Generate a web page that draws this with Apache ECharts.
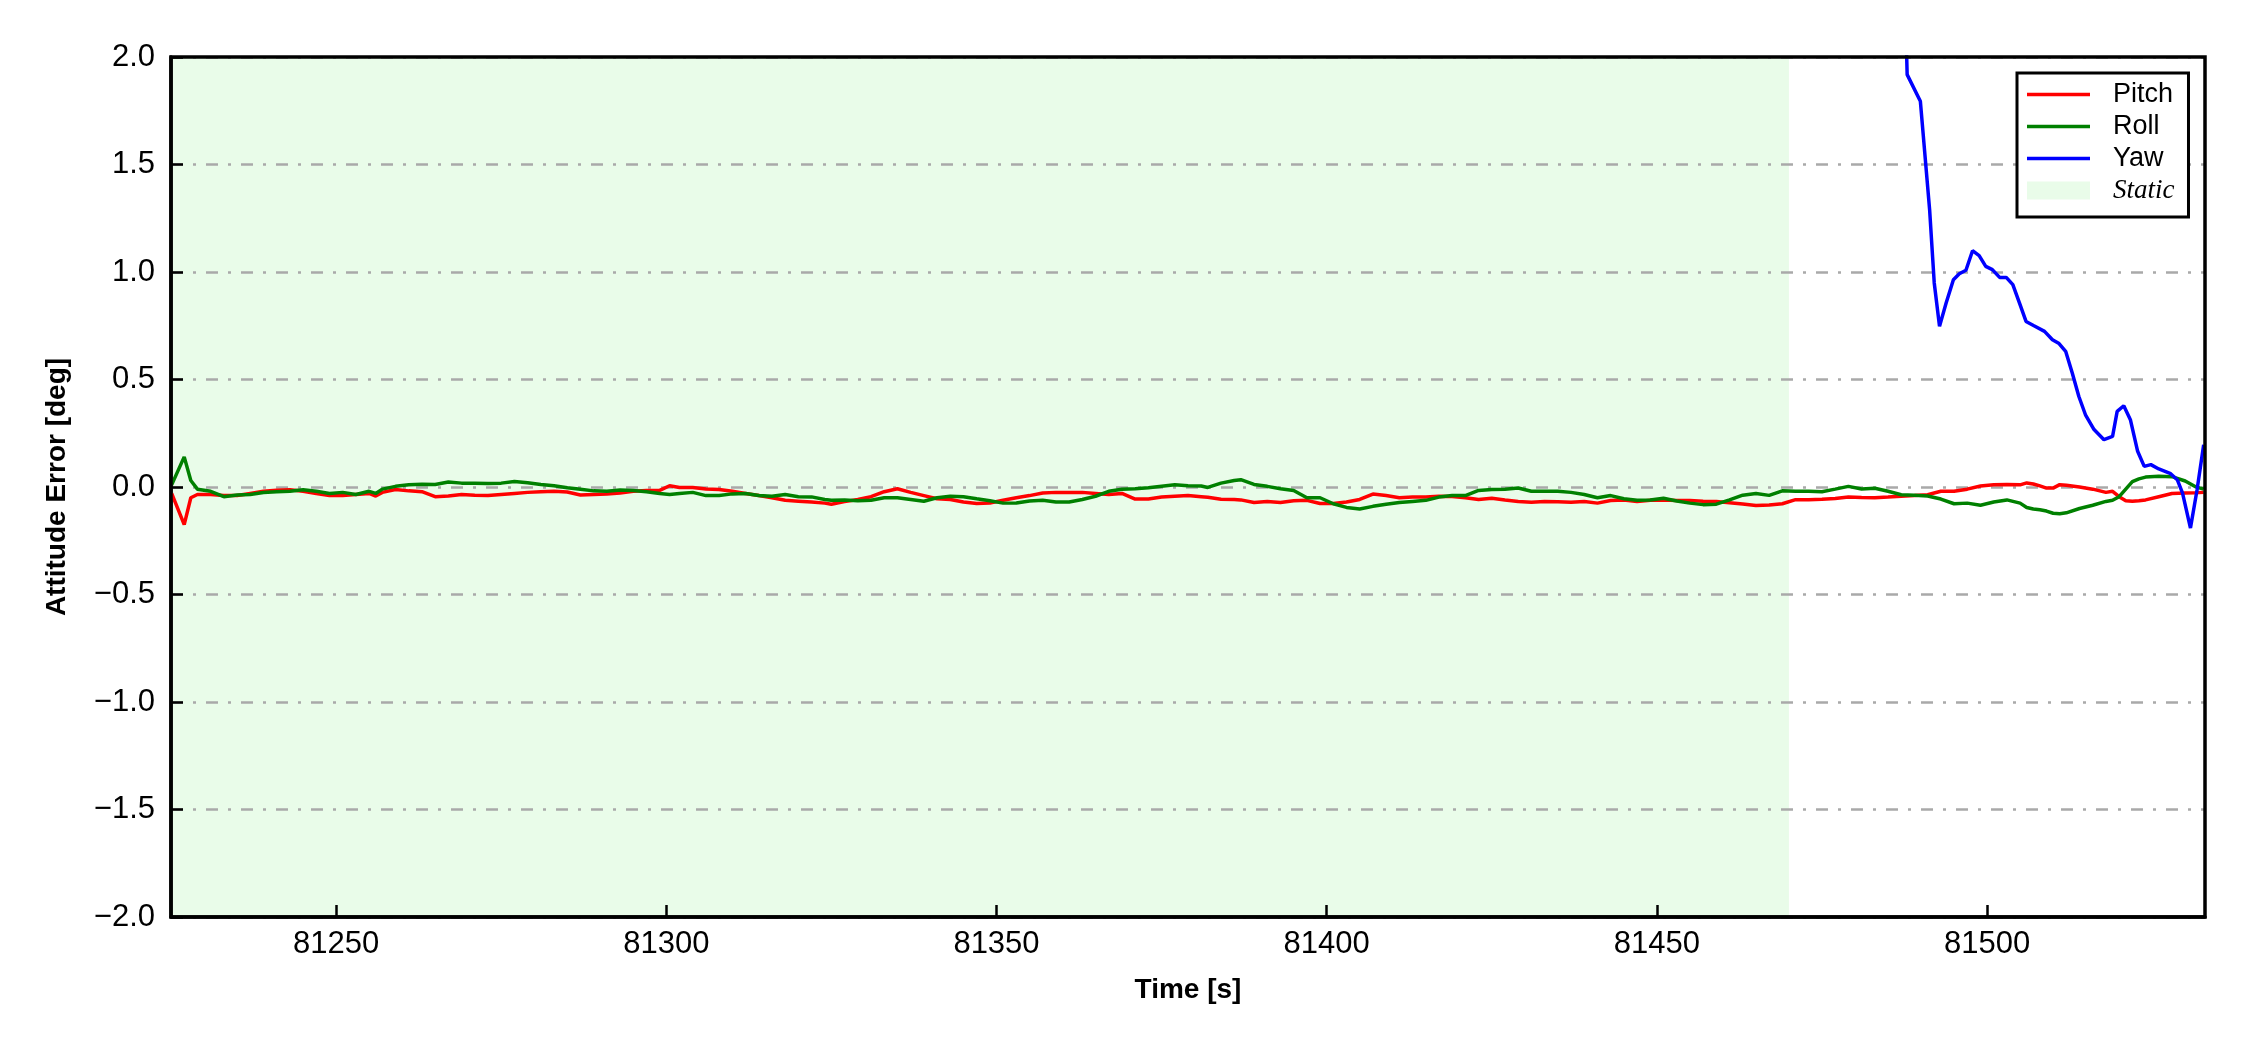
<!DOCTYPE html>
<html>
<head>
<meta charset="utf-8">
<script src="https://cdn.jsdelivr.net/npm/echarts@6/dist/echarts.min.js"></script>
<style>
html,body{margin:0;padding:0;background:#fff;}
#chart{width:2250px;height:1050px;}
</style>
</head>
<body>
<div id="chart"></div>
<script>
// ---- data ----
const timeRP = [
81225.1, 81227, 81228, 81229, 81231, 81233, 81235, 81237, 81239, 81241, 81243, 81245, 81247, 81249, 81251, 81253, 81255, 81256, 81257, 81259, 81261, 81263, 81265, 81267, 81269, 81271, 81273, 81275, 81277, 81279, 81281, 81283,
81285, 81287, 81289, 81291, 81293, 81295, 81297, 81299, 81300.5, 81302, 81304, 81306, 81308, 81310, 81312, 81314, 81316, 81318, 81320, 81322, 81324, 81325, 81327, 81329, 81331, 81333, 81335, 81337, 81339, 81341,
81343, 81345, 81347, 81349, 81351, 81353, 81355, 81357, 81359, 81361, 81363, 81365, 81367, 81369, 81371, 81373, 81375, 81377, 81379, 81381, 81382, 81384, 81386, 81387, 81389, 81391, 81393, 81395, 81397, 81399,
81401, 81403, 81405, 81407, 81409, 81411, 81413, 81415, 81417, 81419, 81421, 81423, 81425, 81427, 81429, 81431, 81433, 81435, 81437, 81439, 81441, 81443, 81445, 81447, 81449, 81451, 81453,
81455, 81457, 81459, 81461, 81463, 81465, 81467, 81469, 81471, 81473, 81475, 81477, 81479, 81481, 81483, 81485, 81487, 81489, 81491, 81493, 81495, 81497, 81499, 81501, 81503, 81505, 81506, 81507, 81508, 81509, 81510, 81511, 81512, 81514, 81516, 81518, 81519, 81520, 81521, 81522, 81523, 81524, 81526, 81528, 81530, 81531.5, 81532.8
];
const pitch = [
-0.03, -0.175, -0.05, -0.035, -0.035, -0.04, -0.04, -0.03, -0.02, -0.015, -0.013, -0.02, -0.03, -0.04, -0.04, -0.035, -0.03, -0.042, -0.025, -0.012, -0.018, -0.022, -0.045, -0.042, -0.035, -0.038, -0.04, -0.035, -0.03, -0.025, -0.022, -0.02,
-0.023, -0.037, -0.035, -0.033, -0.028, -0.02, -0.016, -0.016, 0.006, -0.002, -0.002, -0.009, -0.012, -0.02, -0.03, -0.04, -0.05, -0.062, -0.066, -0.07, -0.075, -0.08, -0.068, -0.058, -0.045, -0.022, -0.008, -0.025, -0.04, -0.055,
-0.058, -0.07, -0.077, -0.074, -0.062, -0.05, -0.04, -0.028, -0.025, -0.026, -0.025, -0.03, -0.035, -0.03, -0.056, -0.056, -0.047, -0.043, -0.04, -0.045, -0.048, -0.057, -0.058, -0.06, -0.072, -0.067, -0.072, -0.064, -0.062, -0.077,
-0.077, -0.07, -0.058, -0.033, -0.04, -0.05, -0.047, -0.047, -0.043, -0.044, -0.05, -0.058, -0.052, -0.06, -0.067, -0.071, -0.068, -0.069, -0.071, -0.067, -0.075, -0.063, -0.06, -0.068, -0.062, -0.06, -0.063,
-0.063, -0.066, -0.067, -0.073, -0.079, -0.086, -0.084, -0.078, -0.059, -0.059, -0.057, -0.053, -0.047, -0.049, -0.05, -0.047, -0.043, -0.04, -0.036, -0.02, -0.02, -0.01, 0.005, 0.011, 0.012, 0.01, 0.019, 0.014, 0.005, -0.005, -0.005, 0.011, 0.008, 0.0, -0.01, -0.025, -0.02, -0.045, -0.064, -0.066, -0.064, -0.06, -0.045, -0.03, -0.028, -0.027, -0.025
];
const roll = [
0.01, 0.14, 0.03, -0.01, -0.02, -0.045, -0.037, -0.035, -0.026, -0.022, -0.02, -0.013, -0.02, -0.03, -0.025, -0.035, -0.02, -0.03, -0.01, 0.003, 0.01, 0.013, 0.012, 0.023, 0.018, 0.017, 0.016, 0.018, 0.026, 0.02, 0.012, 0.006,
-0.003, -0.01, -0.018, -0.02, -0.014, -0.016, -0.022, -0.03, -0.035, -0.03, -0.025, -0.04, -0.04, -0.032, -0.03, -0.04, -0.043, -0.035, -0.045, -0.046, -0.058, -0.062, -0.06, -0.064, -0.062, -0.05, -0.05, -0.058, -0.066, -0.05,
-0.043, -0.045, -0.055, -0.064, -0.075, -0.074, -0.065, -0.062, -0.07, -0.07, -0.058, -0.043, -0.02, -0.01, -0.008, -0.003, 0.004, 0.01, 0.006, 0.005, -0.002, 0.018, 0.03, 0.034, 0.012, 0.003, -0.008, -0.016, -0.05, -0.05,
-0.078, -0.095, -0.102, -0.09, -0.08, -0.072, -0.067, -0.062, -0.047, -0.04, -0.04, -0.016, -0.012, -0.01, -0.005, -0.02, -0.02, -0.02, -0.025, -0.035, -0.05, -0.04, -0.055, -0.062, -0.06, -0.052, -0.065,
-0.075, -0.082, -0.08, -0.06, -0.038, -0.03, -0.039, -0.018, -0.02, -0.02, -0.022, -0.01, 0.003, -0.009, -0.006, -0.02, -0.036, -0.038, -0.042, -0.056, -0.078, -0.075, -0.085, -0.07, -0.06, -0.075, -0.095, -0.102, -0.106, -0.112, -0.122, -0.124, -0.12, -0.1, -0.085, -0.067, -0.062, -0.045, -0.01, 0.025, 0.038, 0.046, 0.05, 0.048, 0.028, 0.002, -0.01
];
const timeYaw = [81487.3, 81487.9, 81489.9, 81491.3, 81492.0, 81492.8, 81493.8, 81494.9, 81495.8, 81496.8, 81497.8, 81498.8, 81499.8, 81500.8, 81501.9, 81502.9, 81503.9, 81504.9, 81505.9, 81507.1, 81508.7, 81509.9, 81510.9, 81511.9, 81512.9, 81513.9, 81514.9, 81516.2, 81517.7, 81519.0, 81519.7, 81520.7, 81521.7, 81522.8, 81523.8, 81524.8, 81526.0, 81527.8, 81528.8, 81529.6, 81530.8, 81531.8, 81532.8];
const yaw = [2.6, 1.918, 1.794, 1.29, 0.949, 0.747, 0.856, 0.964, 0.992, 1.008, 1.099, 1.076, 1.026, 1.011, 0.975, 0.975, 0.941, 0.856, 0.770, 0.750, 0.724, 0.685, 0.667, 0.631, 0.530, 0.421, 0.336, 0.267, 0.22, 0.235, 0.352, 0.378, 0.313, 0.166, 0.096, 0.104, 0.084, 0.062, 0.034, -0.028, -0.191, -0.013, 0.197];
const staticStart = 81225;
const staticEnd = 81470;
const xMin = 81225, xMax = 81533;
const xTicks = [81250, 81300, 81350, 81400, 81450, 81500];
const yMin = -2, yMax = 2, yStep = 0.5;
const seriesNames = ['Pitch', 'Roll', 'Yaw', 'Static'];
const seriesColors = ['#ff0000', '#008000', '#0000ff', 'rgb(233,252,233)'];

// ---- chart ----
const pairs = (t, v) => t.map((x, i) => [x, v[i]]);
const FONT = "'Liberation Sans', Arial, sans-serif";
const chart = echarts.init(document.getElementById('chart'), null, {renderer: 'canvas'});
const linePath = 'path://M0,0H63V3.5H0Z';
const LW = 3.5;

chart.setOption({
  animation: false,
  backgroundColor: '#ffffff',
  grid: {
    left: 171, right: 45, top: 57, bottom: 133,
    show: true, borderColor: '#000', borderWidth: 3.5,
    backgroundColor: 'transparent', z: 4
  },
  legend: {
    orient: 'vertical', left: 2017, top: 73,
    padding: [8, 14, 13, 10],
    borderColor: '#000', borderWidth: 3, backgroundColor: '#fff',
    borderRadius: 0,
    itemWidth: 63, itemHeight: 18, itemGap: 5,
    selectedMode: false,
    itemStyle: {borderWidth: 0},
    textStyle: {
      fontFamily: FONT, fontSize: 27, color: '#000', padding: [0, 0, 0, 18], lineHeight: 27,
      rich: {it: {fontFamily: "'Liberation Serif', 'Times New Roman', serif", fontStyle: 'italic', fontSize: 27, lineHeight: 27, color: '#000'}}
    },
    formatter: name => name === 'Static' ? '{it|Static}' : name,
    data: [
      {name: seriesNames[0], icon: linePath},
      {name: seriesNames[1], icon: linePath},
      {name: seriesNames[2], icon: linePath},
      {name: seriesNames[3], icon: 'rect'}
    ]
  },
  xAxis: {
    type: 'value', min: xMin, max: xMax, z: 2,
    name: 'Time [s]', nameLocation: 'middle', nameGap: 59,
    nameTextStyle: {fontFamily: FONT, fontSize: 28, fontWeight: 'bold', color: '#000'},
    axisLine: {show: true, onZero: false, lineStyle: {color: '#000', width: 3.5}},
    axisTick: {show: true, inside: true, length: 12, lineStyle: {color: '#000', width: 2.5}, customValues: xTicks},
    axisLabel: {show: true, margin: 12, fontFamily: FONT, fontSize: 31, color: '#000', customValues: xTicks, formatter: v => String(v)},
    splitLine: {show: false}
  },
  yAxis: {
    type: 'value', min: yMin, max: yMax, interval: yStep, z: 2,
    name: 'Attitude Error [deg]', nameLocation: 'middle', nameGap: 100,
    nameTextStyle: {fontFamily: FONT, fontSize: 28, fontWeight: 'bold', color: '#000'},
    axisLine: {show: true, onZero: false, lineStyle: {color: '#000', width: 3.5}},
    axisTick: {show: true, inside: true, length: 12, lineStyle: {color: '#000', width: 2.5}},
    axisLabel: {show: true, margin: 16, fontFamily: FONT, fontSize: 31, color: '#000',
      formatter: v => (v < 0 ? '\u2212' : '') + Math.abs(v).toFixed(1)},
    splitLine: {show: true, lineStyle: {color: '#a9a9a9', width: 2.5, type: [12, 10, 3, 10]}}
  },
  series: [
    {name: seriesNames[0], type: 'line', data: pairs(timeRP, pitch), color: seriesColors[0], showSymbol: false, symbol: 'none',
     lineStyle: {width: LW, color: seriesColors[0]}, z: 3, clip: true},
    {name: seriesNames[1], type: 'line', data: pairs(timeRP, roll), color: seriesColors[1], showSymbol: false, symbol: 'none',
     lineStyle: {width: LW, color: seriesColors[1]}, z: 3, clip: true},
    {name: seriesNames[2], type: 'line', data: pairs(timeYaw, yaw), color: seriesColors[2], showSymbol: false, symbol: 'none',
     lineStyle: {width: LW, color: seriesColors[2]}, z: 3, clip: true},
    {name: seriesNames[3], type: 'line', data: [], color: seriesColors[3], symbol: 'none', z: 1,
     markArea: {silent: true, z: 1, itemStyle: {color: seriesColors[3]},
       data: [[{xAxis: staticStart, yAxis: yMin}, {xAxis: staticEnd, yAxis: yMax}]]}}
  ]
});
</script>
</body>
</html>
